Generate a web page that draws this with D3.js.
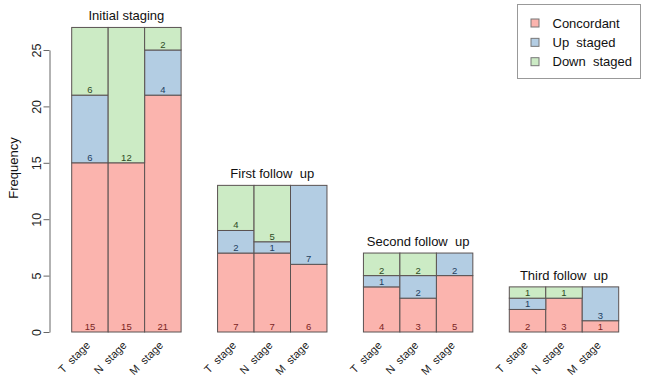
<!DOCTYPE html>
<html lang="en">
<head>
<meta charset="UTF-8">
<title>Staging frequency</title>
<style>
    body { margin: 0; background: #fff; }
    svg text { font-family: "Liberation Sans", Arial, sans-serif; white-space: pre; }
</style>
</head>
<body>
<svg id="chart" width="645" height="376"></svg>
<script src="https://cdn.jsdelivr.net/npm/d3@7"></script>
<script>
// data
const groups = ["Initial staging", "First follow  up", "Second follow  up", "Third follow  up"];
const stages = ["T  stage", "N  stage", "M  stage"];
const concordant = [[15, 15, 21], [7, 7, 6], [4, 3, 5], [2, 3, 1]];
const upStaged   = [[6, 0, 4], [2, 1, 7], [1, 2, 2], [1, 0, 3]];
const downStaged = [[6, 12, 2], [4, 5, 0], [2, 2, 0], [1, 1, 0]];
const seriesNames = ["Concordant", "Up  staged", "Down  staged"];
const yTicks = [0, 5, 10, 15, 20, 25];

const fills = ["#fbb4ae", "#b3cde3", "#ccebc5"];
const labelColors = ["#7a2424", "#23405f", "#2e4a24"];

const svg = d3.select("#chart");

// flat rows for d3.stack
const rows = [];
groups.forEach((g, gi) => {
    stages.forEach((s, si) => {
        rows.push({group: g, stage: s, c: concordant[gi][si], u: upStaged[gi][si], d: downStaged[gi][si]});
    });
});
const keys = ["c", "u", "d"];
const stacked = d3.stack().keys(keys)(rows);

const x0 = d3.scaleBand().domain(groups).range([71.7, 618.7]).paddingInner(0.25).paddingOuter(0);
const x1 = d3.scaleBand().domain(stages).range([0, x0.bandwidth()]).padding(0);
const y = d3.scaleLinear().domain([0, 25]).range([332, 50]);

// bars
stacked.forEach((layer, li) => {
    const g = svg.append("g");
    g.selectAll("rect").data(layer).enter().append("rect")
        .attr("x", d => x0(d.data.group) + x1(d.data.stage))
        .attr("width", x1.bandwidth())
        .attr("y", d => y(d[1]))
        .attr("height", d => y(d[0]) - y(d[1]))
        .attr("fill", fills[li])
        .attr("stroke", d => d[1] > d[0] ? "#5a5252" : "none")
        .attr("stroke-width", 1);
});

// value labels at the bottom of each segment
stacked.forEach((layer, li) => {
    svg.append("g").selectAll("text").data(layer.filter(d => d[1] > d[0])).enter().append("text")
        .attr("x", d => x0(d.data.group) + x1(d.data.stage) + x1.bandwidth() / 2)
        .attr("y", d => y(d[0]) - 2)
        .attr("text-anchor", "middle")
        .attr("font-size", "9.5px")
        .attr("fill", labelColors[li])
        .text(d => d[1] - d[0]);
});

// group titles
svg.append("g").selectAll("text").data(groups).enter().append("text")
    .attr("x", g => x0(g) + x0.bandwidth() / 2)
    .attr("y", (g, gi) => y(d3.sum([concordant[gi][0], upStaged[gi][0], downStaged[gi][0]])) - 7)
    .attr("text-anchor", "middle")
    .attr("font-size", "13px")
    .attr("fill", "#111")
    .text(g => g);

// stage labels, rotated
const stageLabels = svg.append("g");
groups.forEach(g => {
    stages.forEach(s => {
        const cx = x0(g) + x1(s) + x1.bandwidth() / 2;
        stageLabels.append("text")
            .attr("transform", `translate(${cx + 1},${346}) rotate(-45)`)
            .attr("text-anchor", "end")
            .attr("font-size", "11px")
            .attr("fill", "#222")
            .text(s);
    });
});

// y axis
const yAxis = svg.append("g")
    .attr("transform", "translate(49.5,0)")
    .call(d3.axisLeft(y).tickValues(yTicks).tickSize(6).tickSizeOuter(0));
yAxis.select(".domain").attr("stroke", "#666");
yAxis.selectAll(".tick line").attr("stroke", "#666");
yAxis.selectAll(".tick text")
    .attr("font-size", "12.5px")
    .attr("fill", "#222")
    .attr("x", null).attr("dy", null)
    .attr("text-anchor", "middle")
    .attr("transform", "translate(-13,0) rotate(-90)")
    .attr("dominant-baseline", "central");

svg.append("text")
    .attr("transform", "translate(13,168) rotate(-90)")
    .attr("text-anchor", "middle")
    .attr("dominant-baseline", "central")
    .attr("font-size", "13px")
    .attr("fill", "#111")
    .text("Frequency");

// legend
const legend = svg.append("g");
legend.append("rect")
    .attr("x", 517.5).attr("y", 4.5).attr("width", 123).attr("height", 74)
    .attr("fill", "#fff").attr("stroke", "#999");
const ly = d3.scalePoint().domain(seriesNames).range([23, 61.7]);
seriesNames.forEach((n, i) => {
    legend.append("rect")
        .attr("x", 531).attr("y", ly(n) - 4).attr("width", 8).attr("height", 8)
        .attr("fill", fills[i]).attr("stroke", "#777");
    legend.append("text")
        .attr("x", 552.5).attr("y", ly(n))
        .attr("dominant-baseline", "central")
        .attr("font-size", "13px")
        .attr("fill", "#111")
        .text(n);
});
</script>
</body>
</html>
